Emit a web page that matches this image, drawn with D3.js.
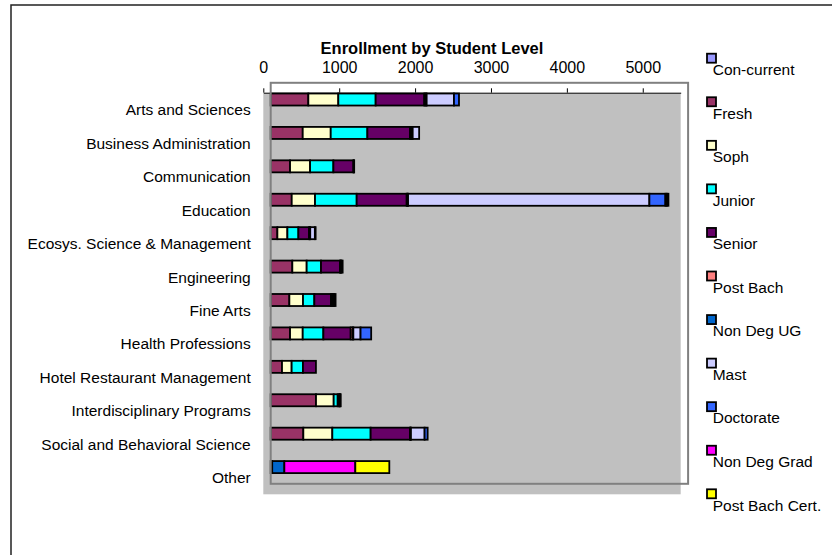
<!DOCTYPE html>
<html>
<head>
<meta charset="utf-8">
<script src="https://cdn.jsdelivr.net/npm/d3@7"></script>
<style>
  body { margin: 0; background: #fff; }
  text { font-family: "Liberation Sans", Arial, sans-serif; fill: #000; }
</style>
</head>
<body>
<div id="chart"></div>
<script>
var categories = ["Arts and Sciences", "Business Administration", "Communication", "Education",
    "Ecosys. Science & Management", "Engineering", "Fine Arts", "Health Professions",
    "Hotel Restaurant Management", "Interdisciplinary Programs", "Social and Behavioral Science", "Other"];

var levels = ["Con-current", "Fresh", "Soph", "Junior", "Senior", "Post Bach", "Non Deg UG",
    "Mast", "Doctorate", "Non Deg Grad", "Post Bach Cert."];

var levelColors = ["#9999ff", "#993366", "#ffffcc", "#00ffff", "#660066", "#ff8080", "#0066cc",
    "#ccccff", "#3366ff", "#ff00ff", "#ffff00"];

// one array per student level, in category order
var conCurrent   = [0, 0, 0, 0, 0, 0, 0, 0, 0, 0, 0, 20];
var fresh        = [496, 422, 255, 277, 88, 285, 246, 255, 149, 597, 430, 0];
var soph         = [395, 369, 264, 307, 132, 189, 180, 167, 127, 233, 382, 0];
var junior       = [492, 483, 307, 549, 145, 189, 149, 272, 149, 53, 505, 0];
var senior       = [641, 562, 264, 659, 141, 250, 220, 360, 171, 20, 518, 0];
var postBach     = [18, 20, 5, 10, 8, 10, 20, 25, 0, 5, 8, 0];
var nonDegUG     = [13, 15, 5, 8, 7, 10, 20, 10, 0, 5, 5, 160];
var mast         = [360, 85, 0, 3180, 61, 15, 20, 95, 0, 10, 180, 0];
var doctorate    = [66, 0, 0, 211, 10, 0, 0, 140, 0, 0, 40, 0];
var nonDegGrad   = [0, 0, 0, 20, 0, 0, 0, 0, 0, 0, 0, 935];
var postBachCert = [0, 0, 0, 20, 0, 0, 0, 0, 0, 0, 0, 448];

var xTicks = [0, 1000, 2000, 3000, 4000, 5000];

var series = [conCurrent, fresh, soph, junior, senior, postBach, nonDegUG, mast, doctorate, nonDegGrad, postBachCert];

var rows = categories.map((c, i) => {
    let r = { cat: c };
    levels.forEach((l, j) => { r[l] = series[j][i]; });
    return r;
});

var width = 832, height = 555;
var plot = { left: 263.3, top: 93.3, width: 417.4, height: 401 };
var shift = { x: 7.4, y: -10.5 };   // bars + frame sit offset from the axes, as in the original

var svg = d3.select("#chart").append("svg")
    .attr("width", width)
    .attr("height", height);

// outer chart border
svg.append("rect")
    .attr("x", 11).attr("y", 5)
    .attr("width", width).attr("height", height)
    .attr("fill", "none")
    .attr("stroke", "#222")
    .attr("stroke-width", 1.5);

var x = d3.scaleLinear()
    .domain([0, 5500])
    .range([plot.left, plot.left + plot.width]);

var y = d3.scaleBand()
    .domain(categories)
    .range([plot.top, plot.top + plot.height])
    .paddingInner(0.64)
    .paddingOuter(0.32);

// gray plot fill
svg.append("rect")
    .attr("x", plot.left).attr("y", plot.top)
    .attr("width", plot.width).attr("height", plot.height)
    .attr("fill", "#c0c0c0");

// top axis
var axis = svg.append("g")
    .attr("transform", "translate(0," + (plot.top - 0.6) + ")")
    .call(d3.axisTop(x).tickValues(xTicks).tickFormat(d3.format("d"))
        .tickSize(4.4).tickSizeOuter(0).tickPadding(15));
axis.select(".domain").attr("stroke", "#000");
axis.selectAll(".tick line").attr("stroke", "#000");
axis.selectAll("text")
    .attr("font-size", "16px")
    .attr("font-family", "Liberation Sans, Arial, sans-serif")
    .attr("fill", "#000");

// category labels
svg.append("g").selectAll("text")
    .data(categories)
    .enter().append("text")
    .attr("x", 250.7)
    .attr("y", d => y(d) + y.bandwidth() / 2)
    .attr("dy", "0.35em")
    .attr("text-anchor", "end")
    .attr("font-size", "15.5px")
    .text(d => d);

// stacked bars
var stack = d3.stack().keys(levels)(rows);
var bars = svg.append("g")
    .attr("transform", "translate(" + shift.x + "," + shift.y + ")");

stack.forEach((s, j) => {
    bars.append("g")
        .attr("fill", levelColors[j])
        .selectAll("rect")
        .data(s.filter(d => d[1] - d[0] > 0))
        .enter().append("rect")
        .attr("x", d => x(d[0]))
        .attr("y", d => y(d.data.cat))
        .attr("width", d => x(d[1]) - x(d[0]))
        .attr("height", y.bandwidth())
        .attr("stroke", "#000")
        .attr("stroke-width", 1.8);
});

// plot frame
bars.append("rect")
    .attr("x", plot.left).attr("y", plot.top)
    .attr("width", plot.width).attr("height", plot.height)
    .attr("fill", "none")
    .attr("stroke", "#808080")
    .attr("stroke-width", 2);

// title
svg.append("text")
    .attr("x", 432)
    .attr("y", 54)
    .attr("text-anchor", "middle")
    .attr("font-size", "16.5px")
    .attr("font-weight", "bold")
    .text("Enrollment by Student Level");

// legend
var legend = svg.append("g").attr("transform", "translate(706,52.7)");
var item = legend.selectAll("g")
    .data(levels)
    .enter().append("g")
    .attr("transform", (d, i) => "translate(0," + (i * 43.56) + ")");
item.append("rect")
    .attr("x", 1).attr("y", 1)
    .attr("width", 9).attr("height", 9)
    .attr("fill", (d, i) => levelColors[i])
    .attr("stroke", "#000")
    .attr("stroke-width", 1.8);
item.append("text")
    .attr("x", 6.7)
    .attr("y", 22.3)
    .attr("font-size", "15.5px")
    .text(d => d);
</script>
</body>
</html>
